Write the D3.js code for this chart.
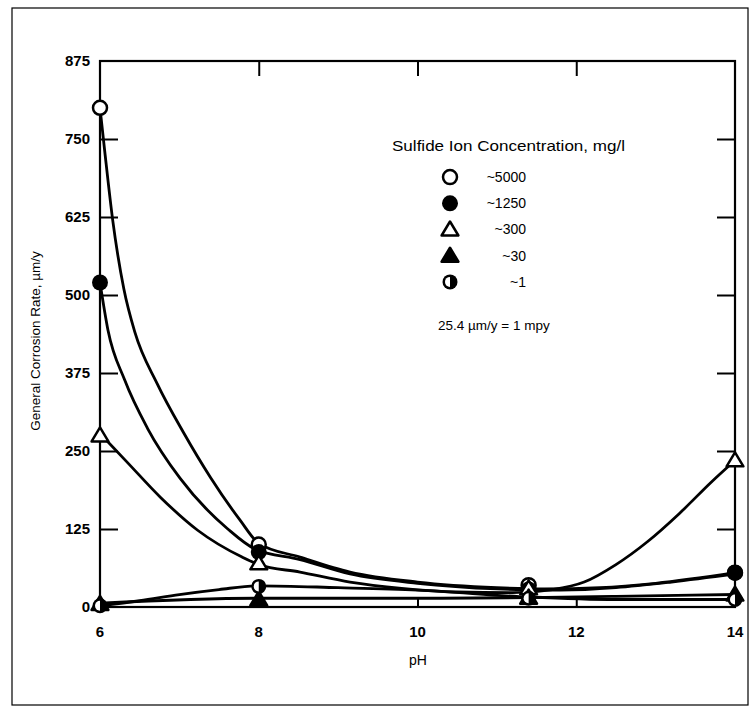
<!DOCTYPE html>
<html><head><meta charset="utf-8">
<script src="https://cdn.jsdelivr.net/npm/d3@7"></script>
<style>body{margin:0;background:#fff}svg{display:block}text{font-family:"Liberation Sans",Arial,sans-serif;fill:#000}</style>
</head><body><svg id="c" width="752" height="713"></svg>
<script>
// marker data
const pH = [6, 8, 11.4, 14];
const s5000 = [800, 100, 35, 55];
const s1250 = [520, 88, 28, 55];
const s300 = [275, 70, 30, 235];
const s30 = [5, 12, 15, 20];
const s1 = [2, 33, 14, 12];
// fitted curves as drawn
const c5000pH = [6, 6.06, 6.16, 6.3, 6.44, 6.72, 7.05, 7.39, 7.76, 8, 8.52, 9.15, 10, 11, 11.6, 12.3, 13, 14];
const c5000v  = [800, 730, 620, 510, 440, 358, 280, 208, 140, 102, 80, 56, 40, 31, 29, 31, 38, 55];
const c1250pH = [6, 6.1, 6.31, 6.6, 7.01, 7.61, 7.95, 8.52, 9.15, 10, 11, 11.8, 12.5, 13.2, 14];
const c1250v  = [520, 444, 364, 286, 206, 125, 93, 76, 53, 38, 29, 27, 31, 40, 53];
const c300pH = [6, 6.35, 6.76, 7.23, 7.79, 8, 8.52, 9.15, 9.8, 10.5, 11.2, 11.7, 12.1, 12.5, 12.9, 13.3, 13.7, 14];
const c300v  = [278, 231, 176, 123, 80, 68, 56, 40, 30, 24, 23, 28, 40, 68, 105, 150, 200, 235];
const c30pH = [6, 8, 10, 11.4, 12.5, 14];
const c30v  = [6, 14, 14, 15, 17, 20];
const c1pH = [6, 6.5, 7, 7.5, 8, 9, 10, 11.4, 12.5, 14];
const c1v  = [2, 10, 20, 28, 34, 31, 27, 16, 12, 12];
const xTicks = [6, 8, 10, 12, 14];
const yTicks = [0, 125, 250, 375, 500, 625, 750, 875];
const legendLabels = ["~5000", "~1250", "~300", "~30", "~1"];

const svg = d3.select("#c");
const x = d3.scaleLinear().domain([6, 14]).range([100, 735]);
const y = d3.scaleLinear().domain([0, 875]).range([607, 61]);

// outer frame
svg.append("rect").attr("x", 12).attr("y", 8).attr("width", 736).attr("height", 697)
  .attr("fill", "none").attr("stroke", "#000").attr("stroke-width", 1.2);

// plot box
svg.append("rect").attr("x", x(6)).attr("y", y(875)).attr("width", x(14) - x(6)).attr("height", y(0) - y(875))
  .attr("fill", "none").attr("stroke", "#000").attr("stroke-width", 2.2);

// axes via d3
const inner = yTicks.filter(d => d > 0 && d < 875);
const innerX = xTicks.filter(d => d > 6 && d < 14);
const ax = (sel) => { sel.select(".domain").remove(); sel.selectAll("text").remove(); sel.selectAll("line").attr("stroke", "#000").attr("stroke-width", 2); };
svg.append("g").attr("transform", `translate(${x(6)},0)`)
  .call(d3.axisRight(y).tickValues(inner).tickSize(18)).call(ax);
svg.append("g").attr("transform", `translate(${x(14)},0)`)
  .call(d3.axisLeft(y).tickValues(inner).tickSize(18)).call(ax);
svg.append("g").attr("transform", `translate(0,${y(875)})`)
  .call(d3.axisBottom(x).tickValues(innerX).tickSize(15)).call(ax);
svg.append("g").attr("transform", `translate(0,${y(0)})`)
  .call(d3.axisTop(x).tickValues(innerX).tickSize(9)).call(ax);

// tick labels
svg.append("g").selectAll("text").data(yTicks).join("text")
  .attr("transform", d => `translate(90,${y(d)})`)
  .attr("dy", "0.35em").attr("text-anchor", "end")
  .attr("font-size", 15).attr("font-weight", "bold")
  .text(d => d);
svg.append("g").selectAll("text").data(xTicks).join("text")
  .attr("transform", d => `translate(${x(d)},637)`)
  .attr("text-anchor", "middle")
  .attr("font-size", 15).attr("font-weight", "bold")
  .text(d => d);
svg.append("text").attr("x", 418).attr("y", 665).attr("text-anchor", "middle").attr("font-size", 14).text("pH");
svg.append("text").attr("transform", "translate(40,341) rotate(-90)").attr("text-anchor", "middle")
  .attr("font-size", 13.5).text("General Corrosion Rate, µm/y");

// curves
const line = d3.line().x(d => x(d[0])).y(d => y(d[1])).curve(d3.curveMonotoneX);
const curves = [[c5000pH, c5000v], [c1250pH, c1250v], [c300pH, c300v], [c30pH, c30v], [c1pH, c1v]];
svg.append("g").selectAll("path").data(curves).join("path")
  .attr("d", d => line(d3.zip(d[0], d[1])))
  .attr("fill", "none").attr("stroke", "#000").attr("stroke-width", 2.8);

// markers
function marker(sel, type, cx, cy) {
  if (type === 0) sel.append("circle").attr("cx", cx).attr("cy", cy).attr("r", 7).attr("fill", "#fff").attr("stroke", "#000").attr("stroke-width", 2.5);
  else if (type === 1) sel.append("circle").attr("cx", cx).attr("cy", cy).attr("r", 8).attr("fill", "#000");
  else if (type === 2 || type === 3) {
    const s = 8;
    sel.append("path").attr("d", `M${cx},${cy - s}L${cx + s * 1.05},${cy + s * 0.75}L${cx - s * 1.05},${cy + s * 0.75}Z`)
      .attr("fill", type === 2 ? "#fff" : "#000").attr("stroke", "#000").attr("stroke-width", 2.5).attr("stroke-linejoin", "round");
  } else {
    sel.append("circle").attr("cx", cx).attr("cy", cy).attr("r", 7.5).attr("fill", "#000");
    sel.append("path").attr("d", `M${cx},${cy - 5}A5,5 0 0 0 ${cx},${cy + 5}Z`).attr("fill", "#fff");
  }
}
const series = [s5000, s1250, s300, s30, s1];
const mg = svg.append("g");
series.forEach((s, i) => s.forEach((v, j) => marker(mg, i, x(pH[j]), y(v))));

// legend
svg.append("text").attr("x", 392).attr("y", 151).attr("font-size", 14)
  .attr("textLength", 233).attr("lengthAdjust", "spacingAndGlyphs").text("Sulfide Ion Concentration, mg/l");
const ly = d3.scaleBand().domain(legendLabels).range([164, 295]);
legendLabels.forEach((l, i) => {
  const cy = ly(l) + ly.bandwidth() / 2;
  marker(svg, i, 450, cy);
  svg.append("text").attr("x", 526).attr("y", cy).attr("dy", "0.35em").attr("text-anchor", "end")
    .attr("font-size", 14).text(l);
});
svg.append("text").attr("x", 438).attr("y", 330).attr("font-size", 13.5).text("25.4 µm/y = 1 mpy");
</script></body></html>
